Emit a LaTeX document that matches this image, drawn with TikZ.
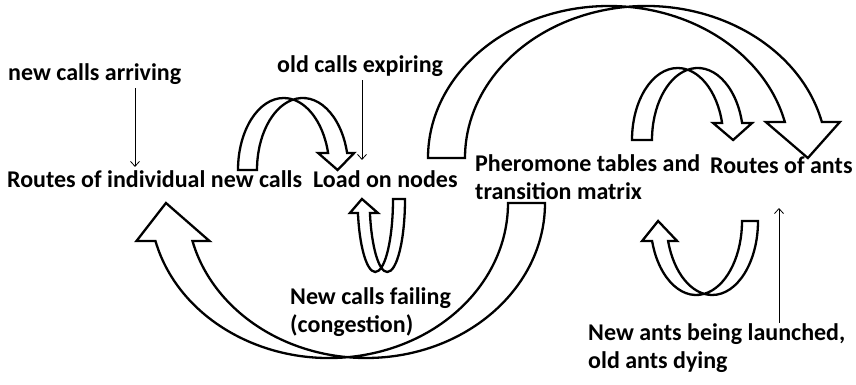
\documentclass[tikz,border=0pt]{standalone}
\usepackage{fontspec}
\setmainfont{Carlito}
\usetikzlibrary{arrows.meta}

\begin{document}
\begin{tikzpicture}[
    x=1pt, y=-1pt,
    lbl/.style={font=\bfseries\fontsize{24}{28}\selectfont,
                inner sep=0pt, anchor=base west, align=left},
    feed/.style={-{Straight Barb[length=5pt,width=9pt]}, line width=0.8pt},
    band/.style={draw, line width=2.3pt, fill=white, line join=miter},
    % bent block arrow: rx, ry, band width, head base height, inner wing, outer wing, tip shift
    pics/bentarrow/.style n args={7}{code={
        \pgfmathsetmacro\hdang{asin(#4/#2)}
        \pgfmathsetmacro\hdx{#1+#1*cos(\hdang)}
        \draw[band] (0,0)
          arc[start angle=180, end angle=\hdang, x radius=#1pt, y radius=#2pt]
          -- ++(-#5,0) -- (\hdx+#3/2+#7,0) -- (\hdx+#3+#6,-#4) -- (\hdx+#3,-#4)
          arc[start angle=\hdang, end angle=180, x radius=#1pt, y radius=#2pt]
          -- cycle;
    }}]
  \useasboundingbox (0,0) rectangle (856,385);

  % block arrows
  \pic (loadloop)  at (238,170) {bentarrow={45.7}{72}{19}{17}{10}{7}{0}};
  \pic[rotate=180] (failloop) at (405,199) {bentarrow={17.7}{73}{12}{14}{8}{8}{2}};
  \pic (pherarc)   at (428,158) {bentarrow={181}{152}{37}{36}{19}{18}{4.5}};
  \pic (antloop)   at (632,140) {bentarrow={45.7}{72}{20}{17}{9}{10}{1}};
  \pic[rotate=180] (launchloop) at (758,221) {bentarrow={45.8}{74}{16}{20}{9}{10}{2}};
  \pic[rotate=180] (backarc) at (545,203) {bentarrow={179}{155}{37}{38}{17}{19}{8}};

  % labels (base = last line)
  \node[lbl] (arrive) at (8,81) {new calls arriving};
  \node[lbl] (expire) at (277,73) {old calls expiring};
  \node[lbl] (newroutes) at (7,187) {Routes of individual new calls};
  \node[lbl] (load) at (313,187) {Load on nodes};
  \node[lbl] (pher) at (475,199) {Pheromone tables and\\transition matrix};
  \node[lbl] (antroutes) at (710,173) {Routes of ants};
  \node[lbl] (failing) at (290,332) {New calls failing\\(congestion)};
  \node[lbl] (launch) at (588,368) {New ants being launched,\\old ants dying};

  % thin feeds
  \coordinate (arrivex) at (135,0);
  \coordinate (expirex) at (362,0);
  \coordinate (antfoot) at (779,208);
  \draw[feed,shorten <=3pt,shorten >=3pt] (arrive.south -| arrivex) -- (newroutes.north -| arrivex);
  \draw[feed,shorten <=3pt,shorten >=10pt] (expire.south -| expirex) -- (load.north -| expirex);
  \draw[feed] (launch.north -| antfoot) -- (antfoot);
\end{tikzpicture}
\end{document}
